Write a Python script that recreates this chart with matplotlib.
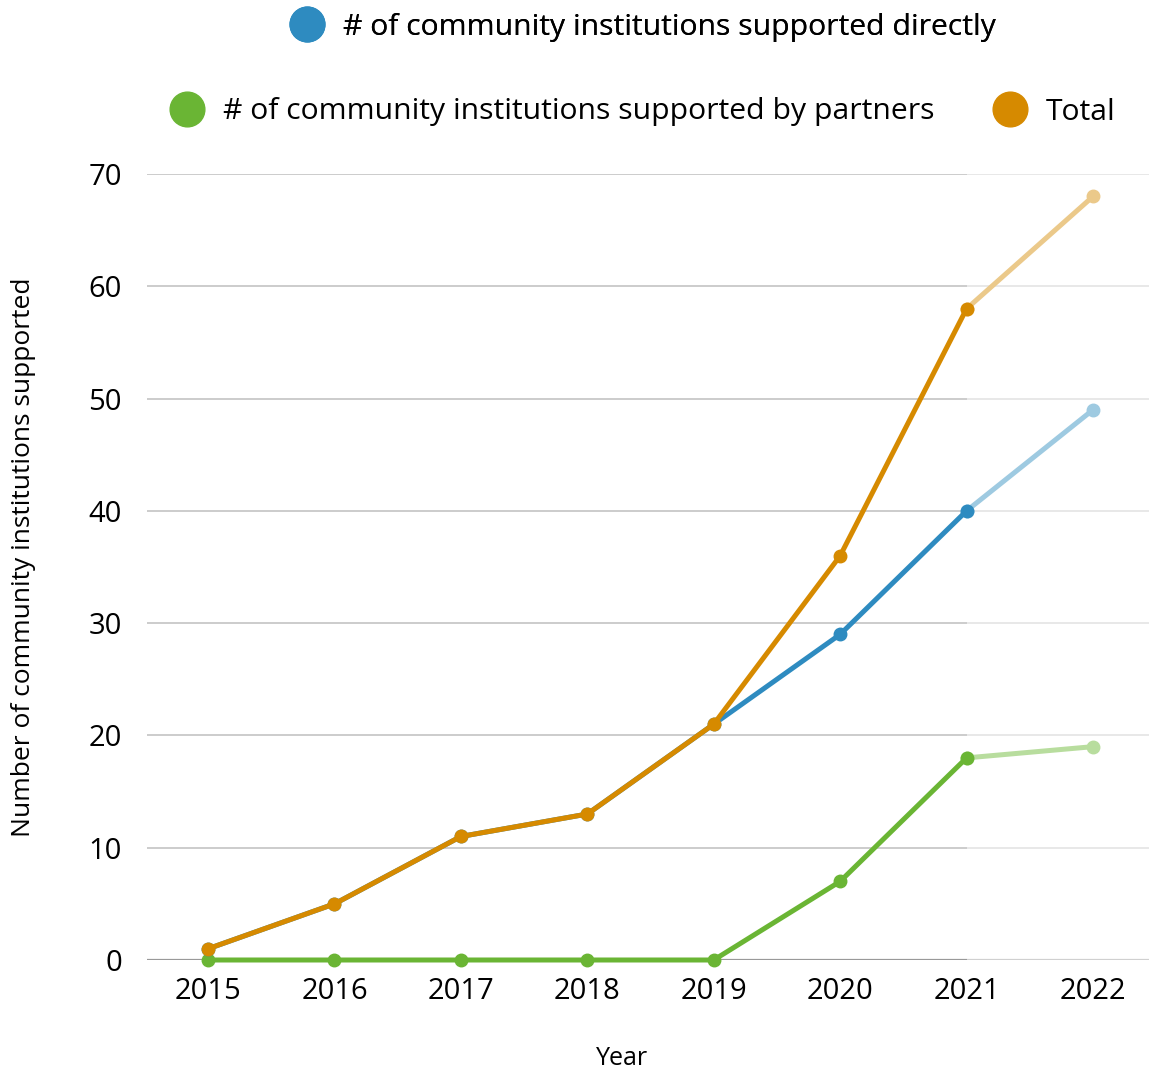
import matplotlib.pyplot as plt
from matplotlib.lines import Line2D

plt.rcParams['font.family'] = ['Open Sans', 'DejaVu Sans']

years = ['2015', '2016', '2017', '2018', '2019', '2020', '2021', '2022']
direct = [1, 5, 11, 13, 21, 29, 40, 49]
partners = [0, 0, 0, 0, 0, 7, 18, 19]
total = [1, 5, 11, 13, 21, 36, 58, 68]
labels = ['# of community institutions supported directly',
          '# of community institutions supported by partners',
          'Total']
# last point is a projection, drawn in a lighter tint
split = 6

series = [
    (partners, '#6ab534', '#b8dd9e'),
    (direct, '#2e8bc0', '#9ecae1'),
    (total, '#d68a00', '#ebc98a'),
]

fig = plt.figure(figsize=(11.49, 10.72), dpi=100)
ax = fig.add_axes([147 / 1149, 1 - 960 / 1072, 1 - 147 / 1149, (960 - 174) / 1072])

x = list(range(len(years)))

for yv in range(10, 80, 10):
    ax.axhline(yv, color='#c4c4c4', lw=1.2, zorder=1)
ax.axhline(0, color='#999999', lw=1.6, zorder=1)
ax.axvspan(split, 8, color='white', alpha=0.55, lw=0, zorder=1.5)

for i, (vals, col, light) in enumerate(series):
    z = 3 + i
    ax.plot(x[split:], vals[split:], color=light, lw=3.6, zorder=z,
            marker='o', ms=9, solid_capstyle='round', clip_on=False)
    ax.plot(x[:split + 1], vals[:split + 1], color=col, lw=3.6, zorder=z + 0.5,
            marker='o', ms=9, solid_capstyle='round', solid_joinstyle='round',
            clip_on=False)

ax.set_xlim(-0.483, 7.443)
ax.set_ylim(0, 70)
ax.set_xticks(x)
ax.set_xticklabels(years)
ax.set_yticks(range(0, 80, 10))
ax.tick_params(axis='both', length=0, labelsize=21, colors='black')
ax.tick_params(axis='x', pad=12)
ax.tick_params(axis='y', pad=18)
for s in ax.spines.values():
    s.set_visible(False)

ax.set_xlabel('Year', fontsize=18)
ax.xaxis.set_label_coords(0.474, -0.109)
ax.set_ylabel('Number of community institutions supported', fontsize=19)
ax.yaxis.set_label_coords(-0.111, 0.513)

def handle(c):
    return Line2D([], [], marker='o', ls='none', ms=25, color=c)

cx = 642 / 1149
leg1 = fig.legend([handle('#2e8bc0')], [labels[0]], loc='center',
                  bbox_to_anchor=(cx, 1 - 27 / 1072), frameon=False,
                  fontsize=21.7, handletextpad=0.6, handlelength=1.2)
fig.add_artist(leg1)
fig.legend([handle('#6ab534'), handle('#d68a00')], labels[1:], loc='center',
           bbox_to_anchor=(cx, 1 - 112 / 1072), frameon=False, ncol=2,
           fontsize=21.7, handletextpad=0.6, handlelength=1.2, columnspacing=1.9)

fig.savefig('out.png', dpi=100)
